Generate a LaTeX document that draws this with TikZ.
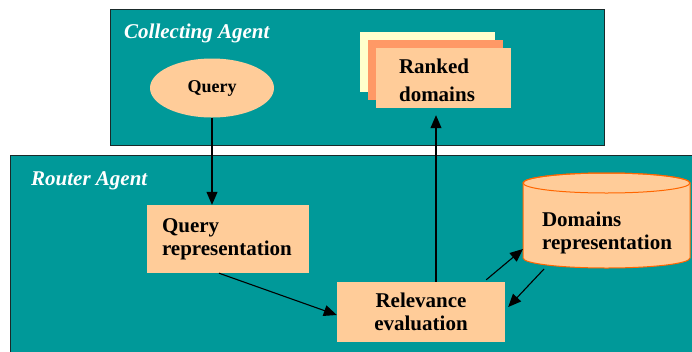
\documentclass[tikz,border=0pt]{standalone}
\usepackage{fontspec}
\setmainfont{Liberation Serif}
\usetikzlibrary{arrows.meta,shapes.geometric,calc}
\definecolor{tealbg}{HTML}{009999}
\definecolor{peach}{HTML}{FFCC99}
\definecolor{orng}{HTML}{FF9966}
\definecolor{lyellow}{HTML}{FFFFCC}
\definecolor{cylline}{HTML}{FF6600}
\definecolor{frame}{HTML}{1A2A2A}
\begin{document}
\begin{tikzpicture}[x=1pt,y=-1pt,
  agentbox/.style={draw=frame, fill=tealbg, line width=1pt},
  lab/.style={text=white, font=\fontsize{21}{23}\selectfont\bfseries\itshape, inner sep=0pt},
  pbox/.style={rectangle, fill=peach, inner sep=0pt, font=\fontsize{21}{23}\selectfont\bfseries},
  arr/.style={line width=1.1pt, -{Triangle[length=13pt,width=11pt]}}
]
\useasboundingbox (0,0) rectangle (692,351);
\fill[white] (0,0) rectangle (692,351);
\begin{scope}
\clip (0,0) rectangle (692,351);
\draw[agentbox] (10,155) rectangle (712,372);
\end{scope}
\draw[agentbox] (110,9) rectangle (604,145);

\node[lab, anchor=base west] (ca) at (124,38) {Collecting Agent};
\node[lab, anchor=base west] (ra) at (31,185) {Router Agent};

\node[ellipse, fill=peach, minimum width=124pt, minimum height=59pt, inner sep=0pt,
  font=\fontsize{18}{20}\selectfont\bfseries] (q) at (212,88) {Query};

\node[pbox, fill=lyellow, minimum width=135pt, minimum height=60pt] (rk3) at (427.5,62) {};
\node[pbox, fill=orng, minimum width=135pt, minimum height=60pt] (rk2) at (435.5,70) {};
\node[pbox, minimum width=135pt, minimum height=60pt] (rk) at (443.5,78) {};
\node[font=\fontsize{21}{28}\selectfont\bfseries, align=left, inner sep=0pt] (rkt) at (437,80) {Ranked\\domains};

\node[pbox, minimum width=162pt, minimum height=68pt, text width=132pt, align=left] (qr) at (228,239) {Query\\representation};

\node[pbox, minimum width=168pt, minimum height=60pt, align=center] (rel) at (421,312) {Relevance\\evaluation};

% cylinder
\path[draw=cylline, fill=peach, line width=1pt] (523,183) -- (523,258)
  arc[start angle=180, end angle=0, x radius=83.5, y radius=10] -- (690,183)
  arc[start angle=0, end angle=-180, x radius=83.5, y radius=10] -- cycle;
\draw[cylline, line width=1pt] (606.5,183) ellipse[x radius=83.5, y radius=10];
\node[font=\fontsize{21}{23}\selectfont\bfseries, align=left, inner sep=0pt] (dom) at (607,233) {Domains\\representation};

\coordinate (d1) at (523,249);
\coordinate (d2) at (544,269);

\draw[arr] (q.south) -- (q.south |- qr.north);
\draw[arr] ($(qr.south)+(-9,0)$) -- ($(rel.west)+(0,3)$);
\draw[arr] ($(rel.north)+(15,0)$) -- ($(rk.south)+(-7.5,7)$);
\draw[arr] ($(rel.north east)+(-19,-2)$) -- (d1);
\draw[arr] (d2) -- ($(rel.east)+(3,-5)$);
\end{tikzpicture}
\end{document}
